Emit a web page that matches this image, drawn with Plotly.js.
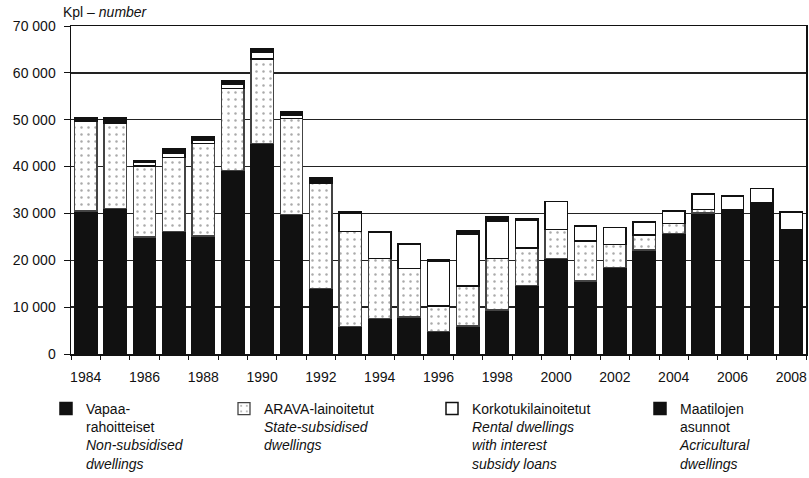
<!DOCTYPE html>
<html>
<head>
<meta charset="utf-8">
<script src="https://cdn.plot.ly/plotly-3.0.1.min.js"></script>
<style>html,body{margin:0;padding:0;background:#fff;}#chart{width:809px;height:478px;}</style>
</head>
<body>
<div id="chart"></div>
<script>
const years = [1984,1985,1986,1987,1988,1989,1990,1991,1992,1993,1994,1995,1996,1997,1998,1999,2000,2001,2002,2003,2004,2005,2006,2007,2008];
const vapaa   = [30500,31000,25000,26100,25200,39100,44900,29800,14000,5800,7600,7900,4800,6000,9400,14600,20400,15600,18500,22200,25700,30100,30700,32300,26600];
const arava   = [19250,18300,15150,15800,19700,17550,18100,20450,22400,20300,12800,10300,5400,8500,11000,8000,6200,8500,4900,3200,2100,700,0,0,0];
const korko   = [0,0,700,900,700,900,1400,700,200,3900,5500,5200,9600,11100,8000,6000,5900,3200,3600,2800,2700,3400,3000,3000,3700];
const maatila = [700,1100,500,1100,850,850,850,850,1000,300,200,200,400,700,800,200,0,0,0,0,0,0,0,0,0];
const labelTicks = [1984,1986,1988,1990,1992,1994,1996,1998,2000,2002,2004,2006,2008];
const names = [
  'Vapaa-<br>rahoitteiset<br><i>Non-subsidised</i><br><i>dwellings</i>',
  'ARAVA-lainoitetut<br><i>State-subsidised</i><br><i>dwellings</i>',
  'Korkotukilainoitetut<br><i>Rental dwellings</i><br><i>with interest</i><br><i>subsidy loans</i>',
  'Maatilojen<br>asunnot<br><i>Acricultural</i><br><i>dwellings</i>'
];

const F = 'Liberation Sans, Arial, sans-serif';
const line = {color:'#111', width:1.5};
const traces = [
  {type:'bar', x:years, y:vapaa, name:names[0], legend:'legend',
   marker:{color:'#111', line:line}},
  {type:'bar', x:years, y:arava, name:names[1], legend:'legend2',
   marker:{color:'#fff', line:{color:'#444', width:1.3}, pattern:{shape:'.', fgcolor:'#aaa', bgcolor:'#fff', size:7, solidity:0.1}}},
  {type:'bar', x:years, y:korko, name:names[2], legend:'legend3',
   marker:{color:'#fff', line:line}},
  {type:'bar', x:years, y:maatila, name:names[3], legend:'legend4',
   marker:{color:'#111', line:line}}
];
traces.forEach(t=>{t.hoverinfo='skip';});

const PL = 71, PW = 735, PT = 26, PH = 328;
const px = v => (v - PL) / PW;
const legBase = {orientation:'v', xref:'paper', yref:'paper', xanchor:'left', yanchor:'top', y:(PT+PH-393)/PH,
  valign:'top', font:{family:F, size:14, color:'#111'}, bgcolor:'rgba(0,0,0,0)', borderwidth:0, itemwidth:30, tracegroupgap:0};

const layout = {
  width:809, height:478,
  margin:{l:71, r:3, t:26, b:124, autoexpand:false},
  paper_bgcolor:'#fff', plot_bgcolor:'#fff',
  separators:', ',
  font:{family:F, size:14, color:'#111'},
  barmode:'stack', bargap:0.24,
  title:{text:'Kpl – <i>number</i>', x:63/809, xanchor:'left', xref:'container', y:1-12/478, yref:'container', yanchor:'middle', font:{family:F, size:14, color:'#111'}},
  xaxis:{range:[1983.5,2008.5], tickmode:'array', tickvals:labelTicks, ticks:'', ticklabelstandoff:10,
    showline:true, linecolor:'#111', linewidth:1.5, mirror:true, showgrid:false, zeroline:false,
    tickfont:{family:F, size:14, color:'#111'},
    minor:{tick0:1983.5, dtick:1, ticks:'outside', ticklen:4, tickcolor:'#111', tickwidth:1, showgrid:false}},
  yaxis:{range:[0,70000], dtick:10000, tickformat:',d', ticks:'outside', ticklen:6, tickcolor:'#111', tickwidth:1,
    showline:true, linecolor:'#111', linewidth:1.5, mirror:true,
    showgrid:true, gridcolor:'#222', gridwidth:1.3, zeroline:false,
    ticklabelstandoff:5, tickfont:{family:F, size:14, color:'#111'}},
  showlegend:true,
  legend: Object.assign({}, legBase, {x:px(46)}),
  legend2: Object.assign({}, legBase, {x:px(224)}),
  legend3: Object.assign({}, legBase, {x:px(432)}),
  legend4: Object.assign({}, legBase, {x:px(640)})
};

Plotly.newPlot('chart', traces, layout, {displayModeBar:false, staticPlot:true});
</script>
</body>
</html>
